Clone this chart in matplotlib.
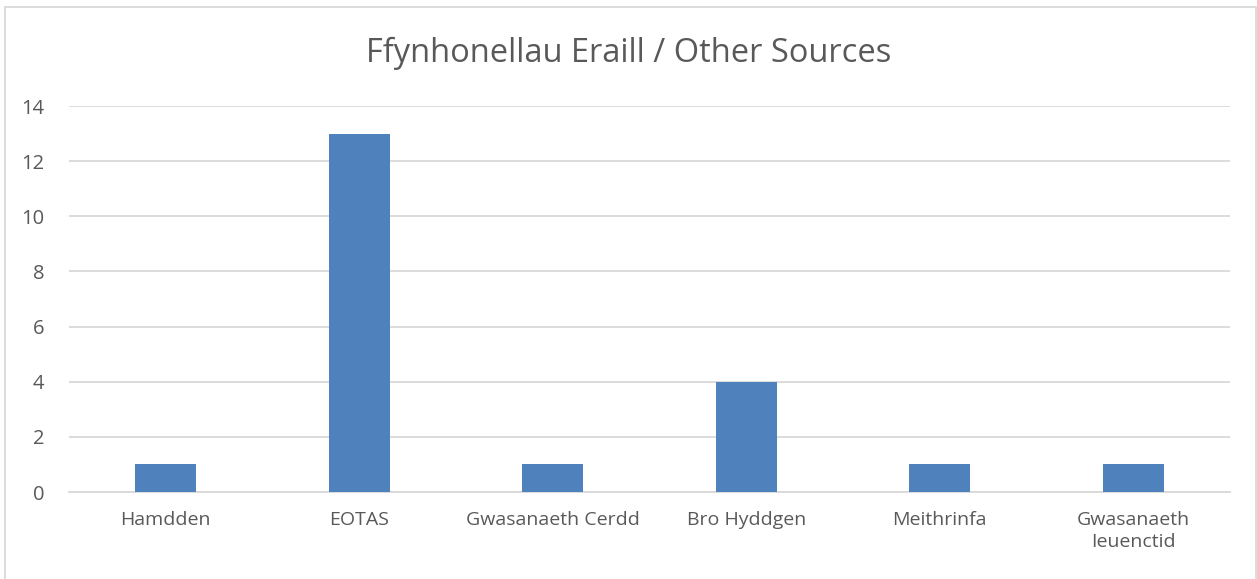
import matplotlib.pyplot as plt
from matplotlib.patches import Rectangle

categories = ["Hamdden", "EOTAS", "Gwasanaeth Cerdd", "Bro Hyddgen", "Meithrinfa", "Gwasanaeth\nIeuenctid"]
counts = [1, 13, 1, 4, 1, 1]
y_ticks = [0, 2, 4, 6, 8, 10, 12, 14]

plt.rcParams["font.family"] = ["Open Sans", "DejaVu Sans"]

fig = plt.figure(figsize=(12.57, 5.79), dpi=100)
ax = fig.add_axes([69 / 1257, 1 - 492 / 579, (1230 - 69) / 1257, (492 - 106) / 579])

x = range(len(categories))
ax.bar(x, counts, width=0.315, color="#4F81BD", zorder=3)

ax.set_xlim(-0.5, len(categories) - 0.5)
ax.set_ylim(0, 14)
ax.set_yticks(y_ticks)
ax.set_xticks(list(x))
ax.set_xticklabels(categories, fontsize=14, color="#595959", linespacing=1.25)
ax.tick_params(axis="y", labelsize=14.5, labelcolor="#595959", length=0, pad=18)
ax.tick_params(axis="x", length=0, pad=14)
ax.grid(axis="y", color="#D9D9D9", linewidth=1.3, zorder=0)
for s in ["top", "right", "left"]:
    ax.spines[s].set_visible(False)
ax.spines["bottom"].set_color("#D9D9D9")
ax.spines["bottom"].set_linewidth(1.3)

fig.text(0.5, 1 - 53 / 579, "Ffynhonellau Eraill / Other Sources", ha="center", va="center",
         fontsize=23.5, color="#595959")

# outer chart border
fig.patches.append(Rectangle((5 / 1257, -0.01), 1251 / 1257, 1 - 7 / 579 + 0.01,
                             transform=fig.transFigure, fill=False, edgecolor="#D9D9D9", linewidth=1.3))

fig.savefig("out.png", dpi=100, facecolor="white")
